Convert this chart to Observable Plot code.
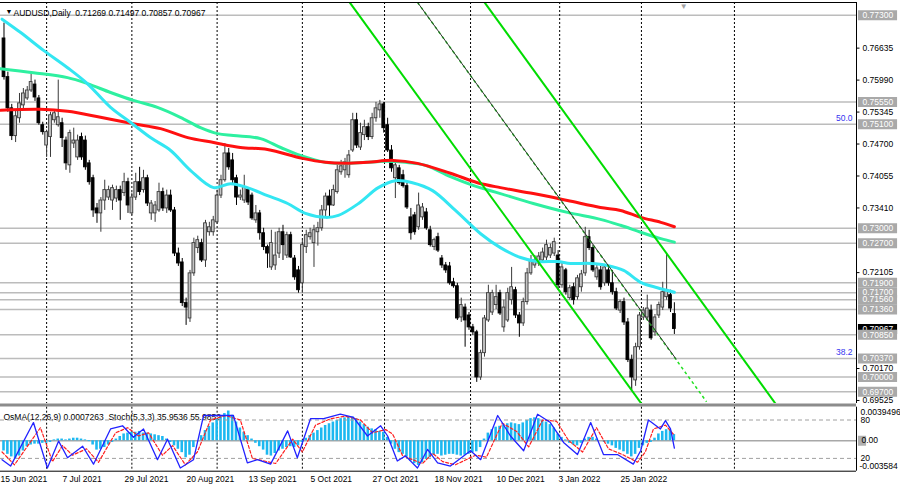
<!DOCTYPE html>
<html><head><meta charset="utf-8">
<script src="https://cdn.jsdelivr.net/npm/d3@7"></script>
<script src="https://cdn.jsdelivr.net/npm/@observablehq/plot@0.6"></script>
<style>
body{margin:0;background:#fff;}
#wrap{position:relative;width:900px;height:491px;overflow:hidden;background:#fff;}
#wrap svg{position:absolute;left:0;}
</style></head><body><div id="wrap"></div>
<script>
// ---------- DATA ----------
const symbolTitle = "AUDUSD,Daily  0.71269 0.71497 0.70857 0.70967";
const indicatorTitle = "OsMA(12,26,9) 0.0007263  Stoch(5,3,3) 35.9536 55.9852";
const open=[.7683,.7605,.7542,.7486,.7522,.7548,.7562,.7578,.7590,.7562,
.7508,.7467,.7484,.7518,.7508,.7512,.7477,.7427,.7471,.7443,
.7484,.7477,.7431,.7401,.7340,.7330,.7356,.7362,.7356,.7360,
.7377,.7371,.7393,.7330,.7362,.7393,.7377,.7401,.7330,.7330,
.7336,.7373,.7340,.7366,.7336,.7249,.7231,.7149,.7118,.7209,
.7260,.7270,.7235,.7292,.7292,.7312,.7366,.7397,.7451,.7437,
.7401,.7362,.7356,.7377,.7366,.7316,.7330,.7290,.7262,.7221,
.7225,.7249,.7292,.7245,.7286,.7239,.7215,.7189,.7262,.7282,
.7270,.7292,.7300,.7336,.7364,.7346,.7373,.7413,.7417,.7407,
.7457,.7518,.7463,.7488,.7504,.7484,.7522,.7538,.7550,.7508,
.7457,.7401,.7421,.7407,.7385,.7322,.7326,.7302,.7322,.7332,
.7296,.7262,.7282,.7239,.7225,.7223,.7191,.7183,.7120,.7140,
.7124,.7100,.7090,.6999,.7048,.7114,.7130,.7145,.7169,.7100,
.7114,.7155,.7175,.7124,.7108,.7151,.7209,.7225,.7229,.7235,
.7241,.7245,.7249,.7245,.7185,.7215,.7159,.7181,.7161,.7181,
.7209,.7282,.7260,.7201,.7215,.7189,.7215,.7189,.7171,.7134,
.7151,.7110,.7034,.6993,.7060,.7120,.7120,.7134,.7090,.7124,
.7140,.7161,.7165,.71269];
const high=[.7714,.7615,.7550,.7538,.7572,.7582,.7586,.7613,.7599,.7568,
.7514,.7498,.7534,.7538,.7599,.7522,.7484,.7498,.7502,.7488,
.7492,.7486,.7437,.7407,.7350,.7362,.7397,.7385,.7387,.7385,
.7385,.7411,.7401,.7371,.7411,.7423,.7417,.7407,.7356,.7354,
.7391,.7381,.7377,.7377,.7342,.7260,.7239,.7159,.7215,.7280,
.7284,.7278,.7316,.7312,.7324,.7377,.7407,.7471,.7461,.7451,
.7407,.7377,.7407,.7381,.7371,.7346,.7336,.7300,.7266,.7296,
.7292,.7300,.7306,.7292,.7292,.7245,.7223,.7276,.7296,.7300,
.7306,.7312,.7346,.7371,.7377,.7387,.7427,.7437,.7441,.7457,
.7532,.7532,.7512,.7518,.7512,.7532,.7554,.7558,.7554,.7522,
.7467,.7437,.7427,.7417,.7391,.7340,.7332,.7371,.7350,.7340,
.7304,.7280,.7290,.7245,.7231,.7231,.7199,.7189,.7159,.7147,
.7130,.7106,.7094,.7054,.7124,.7185,.7175,.7185,.7175,.7155,
.7179,.7221,.7181,.7130,.7159,.7219,.7245,.7245,.7251,.7260,
.7276,.7268,.7280,.7255,.7231,.7219,.7185,.7189,.7205,.7215,
.7302,.7296,.7266,.7225,.7223,.7227,.7223,.7215,.7179,.7155,
.7159,.7118,.7044,.7068,.7130,.7140,.7165,.7145,.7126,.7151,
.7191,.7249,.7175,.71497];
const low=[.7599,.7534,.7477,.7473,.7512,.7538,.7558,.7574,.7556,.7508,
.7488,.7443,.7443,.7512,.7504,.7463,.7417,.7411,.7461,.7437,
.7437,.7417,.7387,.7322,.7310,.7292,.7336,.7356,.7336,.7352,
.7316,.7364,.7330,.7326,.7356,.7366,.7371,.7344,.7316,.7312,
.7332,.7334,.7330,.7332,.7243,.7223,.7142,.7104,.7110,.7203,
.7249,.7231,.7221,.7284,.7284,.7308,.7360,.7393,.7417,.7389,
.7346,.7356,.7350,.7346,.7316,.7310,.7276,.7255,.7219,.7215,
.7215,.7239,.7235,.7239,.7239,.7195,.7169,.7169,.7249,.7276,
.7221,.7264,.7294,.7322,.7322,.7344,.7369,.7407,.7401,.7401,
.7453,.7461,.7457,.7477,.7477,.7479,.7514,.7522,.7492,.7453,
.7413,.7360,.7387,.7381,.7338,.7276,.7286,.7296,.7316,.7296,
.7262,.7255,.7251,.7219,.7209,.7185,.7179,.7114,.7110,.7060,
.7094,.7084,.6989,.6993,.7040,.7110,.7124,.7136,.7124,.7090,
.7110,.7145,.7118,.7080,.7102,.7145,.7205,.7219,.7223,.7231,
.7235,.7239,.7243,.7175,.7179,.7165,.7155,.7145,.7155,.7171,
.7203,.7255,.7211,.7195,.7175,.7183,.7183,.7165,.7134,.7128,
.7104,.7029,.6973,.6981,.7054,.7114,.7116,.7074,.7082,.7118,
.7134,.7155,.7130,.70857];
const close=[.7605,.7542,.7486,.7526,.7552,.7572,.7578,.7595,.7564,.7512,
.7494,.7494,.7528,.7532,.7524,.7482,.7431,.7492,.7477,.7477,
.7443,.7423,.7393,.7336,.7330,.7356,.7377,.7377,.7381,.7377,
.7356,.7393,.7346,.7362,.7393,.7373,.7401,.7350,.7350,.7346,
.7373,.7340,.7366,.7336,.7249,.7229,.7149,.7140,.7209,.7270,
.7276,.7235,.7310,.7302,.7316,.7366,.7397,.7451,.7423,.7397,
.7362,.7366,.7383,.7352,.7320,.7330,.7290,.7262,.7249,.7270,
.7245,.7292,.7266,.7286,.7241,.7201,.7175,.7266,.7286,.7290,
.7296,.7300,.7336,.7364,.7346,.7377,.7417,.7425,.7433,.7447,
.7518,.7467,.7492,.7504,.7484,.7522,.7542,.7550,.7502,.7457,
.7421,.7427,.7391,.7385,.7342,.7290,.7292,.7346,.7342,.7300,
.7266,.7276,.7255,.7225,.7215,.7189,.7183,.7118,.7145,.7114,
.7100,.7090,.6999,.7048,.7118,.7169,.7169,.7161,.7128,.7140,
.7169,.7181,.7124,.7108,.7151,.7209,.7235,.7235,.7243,.7251,
.7266,.7260,.7272,.7185,.7221,.7171,.7179,.7155,.7199,.7207,
.7282,.7260,.7215,.7219,.7181,.7221,.7189,.7171,.7138,.7151,
.7110,.7034,.6999,.7060,.7124,.7134,.7138,.7078,.7120,.7145,
.7171,.7175,.7138,.70967];
// moving averages: vertices (bar index, price)
const maCyanIdx=[-0.5,4.3,10.2,16.4,21.5,27.5,32.6,37.8,43.0,48.1,54.1,58.5,62.8,68.0,73.2,77.8,83.0,86.3,91.5,96.6,101.0,105.4,110.6,116.5,123.0,128.1,133.3,137.7,142.8,146.2,151.4,155.7,159.9,164.3,168.6,173];
const maCyanVal=[.7722,.7695,.7659,.7624,.7592,.7544,.7514,.7483,.7457,.7417,.7382,.7390,.7382,.7366,.7350,.7330,.7322,.7326,.7350,.7382,.7396,.7392,.7376,.7336,.7289,.7261,.7241,.7233,.7233,.7229,.7229,.7225,.7215,.7191,.7180,.7171];
const maGreenIdx=[-0.9,7.6,16.4,21.5,27.5,33.4,39.6,45.5,50.7,55.1,59.2,66.2,71.4,76.5,83.0,87.4,93.3,98.5,103.6,108.8,115.2,121.2,128.1,136.6,145.4,153.9,159.1,164.3,169.5,173];
const maGreenVal=[.7622,.7614,.7604,.7592,.7574,.7558,.7544,.7524,.7503,.7491,.7487,.7481,.7463,.7447,.7433,.7431,.7433,.7435,.7433,.7427,.7404,.7386,.7370,.7350,.7332,.7318,.7306,.7292,.7279,.7272];
const maRedIdx=[-0.9,9.4,16.4,24.9,33.4,40.4,47.4,54.1,61.0,68.0,77.0,83.0,88.1,93.8,100.5,106.7,115.2,122.2,128.1,136.6,145.4,153.9,159.1,164.3,169.5,173];
const maRedVal=[.7538,.7540,.7536,.7524,.7511,.7501,.7483,.7473,.7463,.7459,.7441,.7433,.7431,.7433,.7437,.7431,.7411,.7392,.7382,.7370,.7356,.7342,.7336,.7322,.7312,.7303];
// channel lines (start bar, start price, end bar, end price)
const chanStartIdx=[89.2,106.7,124.0], chanStartPrice=[0.7756,0.7756,0.7756];
const chanEndIdx=[164.5,181.3,199.1],  chanEndPrice=[0.6946,0.6950,0.6946];
const trendSolidEndIdx=173.5, trendSolidEndPrice=0.70355;
// horizontal levels & axis
const levelValues=[0.7730,0.7555,0.7510,0.7300,0.7270,0.7190,0.7170,0.7156,0.7136,0.7085,0.7037,0.7000,0.6970];
const priceTicks=[0.76635,0.75990,0.75345,0.74700,0.74055,0.73410,0.72105,0.70170,0.69525];
const fibLevels=[0.7510,0.7037], fibLabels=["50.0","38.2"];
const currentPrice=0.70967;
const gridIdx=[11,33,55,77,98.2,120.4,143.4,164.5,188.5];
const dateIdx=[0,16,32,48,64,80,96,112,128,144,160];
const dateLabels=["15 Jun 2021","7 Jul 2021","29 Jul 2021","20 Aug 2021","13 Sep 2021","5 Oct 2021","27 Oct 2021","18 Nov 2021","10 Dec 2021","3 Jan 2022","25 Jan 2022"];
// oscillators
const osma=[-0.0012,-0.0016,-0.0019,-0.0021,-0.0018,-0.0012,-0.0007,-0.0005,-0.0004,-0.0004,
-0.0003,-0.0003,-0.0002,0.0001,0.0002,0.0002,0.0001,0.0002,0.0003,0.0003,
0.0002,0.0001,-0.0001,-0.0005,-0.0011,-0.0010,-0.0008,-0.0005,-0.0002,0.0002,
0.0005,0.0008,0.0009,0.0010,0.0010,0.0011,0.0009,0.0009,0.0008,0.0007,
0.0006,0.0005,0.0002,-0.0002,-0.0006,-0.0010,-0.0014,-0.0020,-0.0017,-0.0008,
0.0000,0.0006,0.0012,0.0017,0.0021,0.0025,0.0029,0.0032,0.0035,0.0030,
0.0022,0.0015,0.0010,0.0006,0.0002,-0.0003,-0.0007,-0.0011,-0.0017,-0.0018,
-0.0015,-0.0012,-0.0010,-0.0008,-0.0007,-0.0008,-0.0006,-0.0002,0.0003,0.0006,
0.0009,0.0012,0.0015,0.0018,0.0020,0.0022,0.0024,0.0026,0.0027,0.0028,
0.0028,0.0026,0.0022,0.0019,0.0016,0.0014,0.0013,0.0011,0.0010,0.0004,
-0.0004,-0.0010,-0.0014,-0.0016,-0.0019,-0.0024,-0.0027,-0.0029,-0.0026,-0.0022,
-0.0020,-0.0017,-0.0016,-0.0018,-0.0017,-0.0016,-0.0016,-0.0017,-0.0018,-0.0017,
-0.0016,-0.0014,-0.0013,-0.0008,0.0002,0.0009,0.0013,0.0016,0.0017,0.0018,
0.0020,0.0021,0.0020,0.0019,0.0021,0.0024,0.0026,0.0027,0.0026,0.0024,
0.0022,0.0019,0.0015,0.0008,0.0004,0.0001,-0.0003,-0.0005,-0.0006,-0.0003,
0.0002,0.0004,0.0004,0.0002,0.0000,-0.0002,-0.0004,-0.0006,-0.0009,-0.0011,
-0.0013,-0.0016,-0.0019,-0.0016,-0.0009,-0.0006,-0.0003,-0.0002,0.0003,0.0008,
0.0011,0.0013,0.0012,0.0007263];
const stochIdx=[-0.5,1.7,7.6,11.2,14.1,16.4,20.3,23.1,27.5,30.6,33.4,36.0,39.6,42.2,45.5,48.9,51.5,55.9,59.2,62.8,65.4,68.8,73.2,75.7,79.1,82.5,86.8,90.2,93.8,97.2,99.0,101.5,103.6,106.7,109.3,111.9,115.2,120.4,123.0,127.4,130.7,134.1,137.7,141.0,144.4,148.0,151.4,154.7,158.3,162.4,164.3,166.3,169.4,170.7,172.0,173];
const stochMain=[18,8,76,5,47,21,39,11,66,71,53,66,18,50,5,18,87,87,87,13,18,11,63,21,82,82,89,84,55,71,55,16,24,5,34,13,8,32,18,87,55,32,89,76,45,26,76,26,26,11,32,80,66,79,66,35.9536];
const signalIdx=[-0.5,2.7,9.4,12.5,15.1,17.7,21.3,24.4,28.8,31.9,34.7,37.3,40.9,43.5,46.8,49.9,53.3,57.2,61.0,64.1,70.1,74.5,77.0,80.4,84.3,88.1,92.0,95.1,98.5,100.3,102.8,105.4,108.0,110.6,113.2,116.5,121.7,124.5,128.6,132.3,135.4,139.0,142.6,145.7,149.3,152.9,156.0,159.6,163.5,165.5,167.6,170.7,173];
const signalVal=[30,10,68,15,40,25,35,14,60,68,55,60,25,40,10,30,80,87,80,20,12,50,30,72,82,86,80,60,65,58,25,18,12,28,15,10,25,22,75,62,38,80,78,48,30,68,35,26,14,30,66,72,55.9852];

// ---------- LAYOUT / STYLE ----------
const FONT="'Liberation Sans', Arial, sans-serif";
const X0=-0.903, X1=220.0;          // bar-index domain of the chart area
const Y0=0.69464, Y1=0.77556;       // price domain
const OS0=-0.003584, OS1=0.0039496; // OsMA domain
const wrap=document.getElementById("wrap");
const bars=close.map((c,i)=>({i,o:open[i],h:high[i],l:low[i],c}));
const up=bars.filter(d=>d.c>=d.o), dn=bars.filter(d=>d.c<d.o);
const pts=(xs,ys)=>xs.map((x,k)=>({x,y:ys[k]}));
const chans=chanStartIdx.map((s,k)=>({x1:s,y1:chanStartPrice[k],x2:chanEndIdx[k],y2:chanEndPrice[k]}));
const cx=()=>X1;

const main=Plot.plot({
  width:900,height:406,marginLeft:0,marginRight:44,marginTop:2,marginBottom:3,
  x:{domain:[X0,X1],axis:null}, y:{domain:[Y0,Y1],axis:null},
  style:{background:"transparent",fontFamily:FONT,fontSize:"8.5px",overflow:"visible"},
  marks:[
    Plot.ruleY(levelValues,{stroke:"#bcbcbc",strokeWidth:1.5}),
    Plot.ruleX(gridIdx,{stroke:"#000",strokeWidth:1,strokeDasharray:"2,2"}),
    Plot.ruleX(up,{x:"i",y1:"l",y2:"h",stroke:"#3a3a3a"}),
    Plot.ruleX(dn,{x:"i",y1:"l",y2:"h",stroke:"#000"}),
    Plot.rect(up,{x1:d=>d.i-0.36,x2:d=>d.i+0.36,y1:d=>Math.min(d.o,d.c),y2:d=>Math.max(d.o,d.c),fill:"#c4c4c4",stroke:"#3a3a3a",strokeWidth:0.9}),
    Plot.rect(dn,{x1:d=>d.i-0.36,x2:d=>d.i+0.36,y1:d=>Math.min(d.o,d.c),y2:d=>Math.max(d.o,d.c),fill:"#000",stroke:"#000",strokeWidth:0.9}),
    Plot.line(pts(maGreenIdx,maGreenVal),{x:"x",y:"y",stroke:"#2ef0a0",strokeWidth:3,curve:"catmull-rom"}),
    Plot.line(pts(maRedIdx,maRedVal),{x:"x",y:"y",stroke:"#ff1010",strokeWidth:3,curve:"catmull-rom"}),
    Plot.line(pts(maCyanIdx,maCyanVal),{x:"x",y:"y",stroke:"#33e6f2",strokeWidth:3,curve:"catmull-rom"}),
    Plot.link([chans[0],chans[2]],{x1:"x1",y1:"y1",x2:"x2",y2:"y2",stroke:"#00dc00",strokeWidth:2,clip:true}),
    Plot.link([chans[1]],{x1:"x1",y1:"y1",x2:"x2",y2:"y2",stroke:"#22e022",strokeWidth:1.5,strokeDasharray:"3,3",clip:true}),
    Plot.link([{x1:chanStartIdx[1],y1:chanStartPrice[1],x2:trendSolidEndIdx,y2:trendSolidEndPrice}],{x1:"x1",y1:"y1",x2:"x2",y2:"y2",stroke:"#333",strokeWidth:1,clip:true}),
    // borders
    Plot.ruleX([X1],{stroke:"#000"}),
    Plot.ruleY([Y1],{stroke:"#000"}),
    Plot.ruleY([Y0],{stroke:"#8c8c8c",strokeWidth:3,dy:1.5}),
    // right price axis
    Plot.ruleY(priceTicks,{x1:cx,x2:()=>X1+0.9,stroke:"#000"}),
    Plot.text(priceTicks,{x:cx,y:d=>d,text:d=>d.toFixed(5),textAnchor:"start",dx:6,fill:"#000"}),
    Plot.ruleY([currentPrice],{x1:()=>X1+0.5,x2:()=>X1+10.6,stroke:"#000",strokeWidth:10}),
    Plot.text([currentPrice],{x:cx,y:d=>d,text:d=>d.toFixed(5),textAnchor:"start",dx:6,fill:"#fff"}),
    Plot.ruleY(levelValues,{x1:()=>X1+0.5,x2:()=>X1+10.6,stroke:"#a9a9a9",strokeWidth:10}),
    Plot.text(levelValues,{x:cx,y:d=>d,text:d=>d.toFixed(5),textAnchor:"start",dx:6,fill:"#fff"}),
    Plot.text(fibLevels,{x:cx,y:d=>d,text:(d,k)=>fibLabels[k],textAnchor:"end",dx:-4,dy:-6,fill:"#3434f0"}),
    // title
    Plot.text(["▼"],{frameAnchor:"top-left",dx:5,dy:7,fontSize:7,fill:"#000"}),
    Plot.text([symbolTitle],{frameAnchor:"top-left",dx:13,dy:7,textAnchor:"start",fill:"#000"}),
    Plot.text(["▼"],{x:()=>close.length+1.4,frameAnchor:"top",dy:1,fontSize:8,fill:"#a0a0a0"})
  ]
});
main.style.top="0px";
wrap.appendChild(main);

const subOpts={width:900,height:90,marginLeft:0,marginRight:44,marginTop:5.7,marginBottom:20.3,
  style:{background:"transparent",fontFamily:FONT,fontSize:"8.5px",overflow:"visible"}};

const osmaPlot=Plot.plot({...subOpts,
  x:{domain:[X0,X1],axis:null}, y:{domain:[OS0,OS1],axis:null},
  marks:[
    Plot.ruleX(gridIdx,{stroke:"#000",strokeWidth:1,strokeDasharray:"2,2"}),
    Plot.text([indicatorTitle],{frameAnchor:"top-left",dx:3,dy:7,textAnchor:"start",fill:"#000"}),
    Plot.ruleY([0],{stroke:"#a8a8a8",strokeWidth:1.5}),
    Plot.rect(osma.map((v,i)=>({i,v})),{x1:d=>d.i-0.33,x2:d=>d.i+0.33,y1:0,y2:"v",fill:"#1cb8f0"}),
    Plot.ruleX([X1],{stroke:"#000"}),
    Plot.ruleY([OS0],{stroke:"#000"}),
    Plot.ruleY([0],{x1:()=>X1+0.5,x2:()=>X1+2.6,stroke:"#b0b0b0",strokeWidth:10}),
    Plot.text([OS1],{x:cx,y:d=>d,text:()=>"0.0039496",textAnchor:"start",dx:4,dy:5,fill:"#000"}),
    Plot.text([0],{x:cx,y:d=>d,text:()=>"0.00",textAnchor:"start",dx:5,fill:"#000"}),
    Plot.text([OS0],{x:cx,y:d=>d,text:()=>"-0.003584",textAnchor:"start",dx:3,dy:-5,fill:"#000"}),
    Plot.text(dateIdx,{x:d=>d,text:(d,k)=>dateLabels[k],frameAnchor:"bottom",dy:10.5,dx:-3.5,textAnchor:"start",fill:"#000"})
  ]
});
osmaPlot.style.top="401px";
wrap.appendChild(osmaPlot);

const stochPlot=Plot.plot({...subOpts,
  x:{domain:[X0,X1],axis:null}, y:{domain:[0,100],axis:null},
  marks:[
    Plot.ruleY([80,20],{stroke:"#a0a0a0",strokeDasharray:"4,3"}),
    Plot.line(pts(signalIdx,signalVal),{x:"x",y:"y",stroke:"#ff2020",strokeWidth:1.2,strokeDasharray:"3,2"}),
    Plot.line(pts(stochIdx,stochMain),{x:"x",y:"y",stroke:"#2222ff",strokeWidth:1.3}),
    Plot.text([80,20],{x:cx,y:d=>d,text:d=>String(d),textAnchor:"start",dx:4,fill:"#000"})
  ]
});
stochPlot.style.top="401px";
wrap.appendChild(stochPlot);
</script></body></html>
